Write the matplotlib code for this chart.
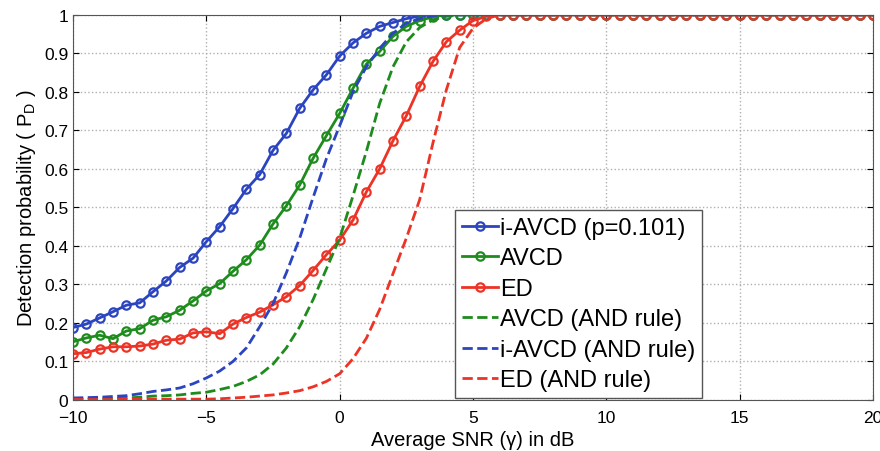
import matplotlib
matplotlib.use("Agg")
import matplotlib.pyplot as plt
import numpy as np

plt.rcParams['font.family'] = ['Liberation Sans', 'DejaVu Sans']

# Eje de SNR promedio (dB), paso de 0.5 dB
snr = np.arange(-10, 20.5, 0.5)

# Curvas con marcadores
iavcd = [0.188, 0.197, 0.213, 0.229, 0.246, 0.252, 0.281, 0.309, 0.344, 0.368,
         0.411, 0.450, 0.497, 0.547, 0.585, 0.648, 0.692, 0.757, 0.805, 0.844,
         0.893, 0.927, 0.952, 0.970, 0.980, 0.990, 0.997, 1.0, 1.0, 1.0,
         1.0, 1.0, 1.0, 1.0, 1.0, 1.0, 1.0, 1.0, 1.0, 1.0,
         1.0, 1.0, 1.0, 1.0, 1.0, 1.0, 1.0, 1.0, 1.0, 1.0,
         1.0, 1.0, 1.0, 1.0, 1.0, 1.0, 1.0, 1.0, 1.0, 1.0, 1.0]
avcd = [0.151, 0.161, 0.168, 0.159, 0.179, 0.185, 0.207, 0.216, 0.233, 0.257,
        0.283, 0.302, 0.334, 0.364, 0.402, 0.457, 0.504, 0.558, 0.627, 0.686,
        0.744, 0.809, 0.872, 0.905, 0.944, 0.970, 0.985, 0.995, 1.0, 1.0,
        1.0, 1.0, 1.0, 1.0, 1.0, 1.0, 1.0, 1.0, 1.0, 1.0,
        1.0, 1.0, 1.0, 1.0, 1.0, 1.0, 1.0, 1.0, 1.0, 1.0,
        1.0, 1.0, 1.0, 1.0, 1.0, 1.0, 1.0, 1.0, 1.0, 1.0, 1.0]
ed = [0.120, 0.123, 0.132, 0.138, 0.138, 0.140, 0.145, 0.155, 0.158, 0.174,
      0.177, 0.172, 0.197, 0.214, 0.228, 0.247, 0.268, 0.297, 0.336, 0.377,
      0.415, 0.467, 0.540, 0.600, 0.673, 0.738, 0.814, 0.879, 0.930, 0.960,
      0.985, 0.996, 1.0, 1.0, 1.0, 1.0, 1.0, 1.0, 1.0, 1.0,
      1.0, 1.0, 1.0, 1.0, 1.0, 1.0, 1.0, 1.0, 1.0, 1.0,
      1.0, 1.0, 1.0, 1.0, 1.0, 1.0, 1.0, 1.0, 1.0, 1.0, 1.0]

# Curvas con regla AND (líneas discontinuas)
avcd_and = [0.001, 0.002, 0.003, 0.004, 0.005, 0.007, 0.010, 0.011, 0.013, 0.017,
            0.020, 0.027, 0.035, 0.048, 0.065, 0.093, 0.135, 0.190, 0.260, 0.340,
            0.420, 0.530, 0.645, 0.770, 0.865, 0.930, 0.967, 0.987, 0.996, 1.0,
            1.0, 1.0, 1.0, 1.0, 1.0, 1.0, 1.0, 1.0, 1.0, 1.0,
            1.0, 1.0, 1.0, 1.0, 1.0, 1.0, 1.0, 1.0, 1.0, 1.0,
            1.0, 1.0, 1.0, 1.0, 1.0, 1.0, 1.0, 1.0, 1.0, 1.0, 1.0]
iavcd_and = [0.005, 0.006, 0.007, 0.009, 0.011, 0.016, 0.022, 0.026, 0.031, 0.042,
             0.057, 0.075, 0.100, 0.135, 0.190, 0.250, 0.330, 0.420, 0.525, 0.626,
             0.712, 0.800, 0.865, 0.913, 0.952, 0.978, 0.990, 0.998, 1.0, 1.0,
             1.0, 1.0, 1.0, 1.0, 1.0, 1.0, 1.0, 1.0, 1.0, 1.0,
             1.0, 1.0, 1.0, 1.0, 1.0, 1.0, 1.0, 1.0, 1.0, 1.0,
             1.0, 1.0, 1.0, 1.0, 1.0, 1.0, 1.0, 1.0, 1.0, 1.0, 1.0]
ed_and = [0.001, 0.001, 0.001, 0.001, 0.002, 0.002, 0.002, 0.002, 0.002, 0.002,
          0.002, 0.003, 0.005, 0.007, 0.010, 0.013, 0.018, 0.024, 0.034, 0.048,
          0.068, 0.107, 0.160, 0.235, 0.328, 0.420, 0.520, 0.668, 0.805, 0.915,
          0.965, 0.990, 1.0, 1.0, 1.0, 1.0, 1.0, 1.0, 1.0, 1.0,
          1.0, 1.0, 1.0, 1.0, 1.0, 1.0, 1.0, 1.0, 1.0, 1.0,
          1.0, 1.0, 1.0, 1.0, 1.0, 1.0, 1.0, 1.0, 1.0, 1.0, 1.0]

azul = '#2b44c0'
verde = '#1d8c1d'
rojo = '#ec3325'

fig = plt.figure(figsize=(8.8, 4.52), dpi=100)
ax = fig.add_axes([0.083, 0.113, 0.909, 0.852])

estilo = dict(lw=2.0, marker='o', ms=6, mfc='none', mew=1.6)
ax.plot(snr, iavcd, color=azul, label='i-AVCD (p=0.101)', **estilo)
ax.plot(snr, avcd, color=verde, label='AVCD', **estilo)
ax.plot(snr, ed, color=rojo, label='ED', **estilo)
ax.plot(snr, avcd_and, '--', color=verde, lw=2.0, label='AVCD (AND rule)')
ax.plot(snr, iavcd_and, '--', color=azul, lw=2.0, label='i-AVCD (AND rule)')
ax.plot(snr, ed_and, '--', color=rojo, lw=2.0, label='ED (AND rule)')

ax.set_xlim(-10, 20)
ax.set_ylim(0, 1)
ax.set_xticks(np.arange(-10, 21, 5))
ax.set_yticks(np.arange(0, 1.01, 0.1))
ax.set_yticklabels(['0', '0.1', '0.2', '0.3', '0.4', '0.5', '0.6', '0.7', '0.8', '0.9', '1'])
ax.tick_params(direction='in', length=4, labelsize=12.5, top=True, right=True)
ax.tick_params(axis='x', pad=7)
ax.grid(True, linestyle=':', color='#b0b0b0', lw=1.0)
for s in ax.spines.values():
    s.set_color('#555555')

ax.set_xlabel('Average SNR (γ) in dB', fontsize=14.5, labelpad=4)
ax.set_ylabel(r'Detection probability ( P$_\mathregular{D}$ )', fontsize=14.5)

ax.legend(loc='upper left', bbox_to_anchor=(0.4775, 0.494), fontsize=17,
          fancybox=False, edgecolor='#555555', framealpha=1,
          handlelength=1.5, handletextpad=0.1, borderpad=0.3,
          labelspacing=0.36, borderaxespad=0)

plt.savefig('out.png', dpi=100)
